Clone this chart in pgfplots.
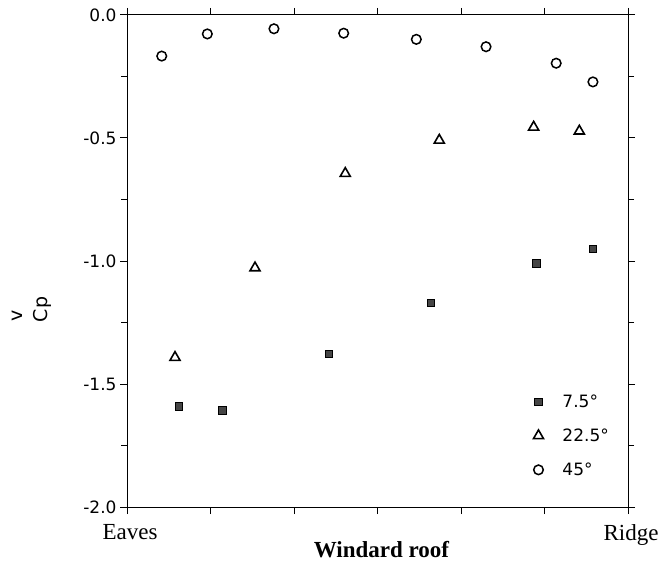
\documentclass[border=0pt]{standalone}
\usepackage{fontspec}
\setmainfont{DejaVu Sans}
\newfontfamily\labelfont{Liberation Serif}
\usepackage{pgfplots}
\pgfplotsset{compat=1.18}

\definecolor{sqgray}{HTML}{454545}

\begin{document}
\begin{tikzpicture}
\begin{axis}[
    name=ax,
    width=501bp, height=492bp, scale only axis,
    xmin=0, xmax=6, ymin=-2, ymax=0,
    axis line style={line width=1bp},
    tick style={line width=1bp, black},
    tick align=outside,
    major tick length=7bp, minor tick length=6bp,
    xtick={0,1,2,3,4,5,6},
    xticklabels={Eaves,,,,,,Ridge},
    xticklabel style={font=\labelfont\fontsize{23bp}{26bp}\selectfont, xshift=3bp, yshift=-7bp},
    ytick={-2,-1.5,-1,-0.5,0},
    yticklabels={-2.0,-1.5,-1.0,-0.5,0.0},
    minor y tick num=1,
    yticklabel style={font=\fontsize{17bp}{20bp}\selectfont},
    xlabel={\bfseries Windard roof},
    xlabel style={at={(rel axis cs:0.508,0)}, anchor=base, yshift=-50bp,
                  font=\labelfont\fontsize{23bp}{26bp}\selectfont},
    ylabel={\shortstack[l]{\hspace{1bp}v\\[7bp]C\kern0.5bp p}},
    ylabel style={at={(rel axis cs:-0.19,0.401)}, anchor=center,
                  font=\fontsize{19bp}{21bp}\selectfont},
    clip=false,
    legend cell align=left,
    legend image code/.code={
        \path[draw=none, fill=none] (-6bp,-2bp) rectangle (22bp,2bp);
        \draw[mark repeat=2,mark phase=2] plot coordinates {(-1bp,0bp)(0bp,0bp)(1bp,0bp)};},
    legend style={draw=none, fill=none, at={(rel axis cs:0.803,0.237)}, anchor=north west,
                  font=\fontsize{17bp}{20bp}\selectfont,
                  /tikz/every even column/.style={column sep=4bp},
                  row sep=16bp},
]
% 7.5 deg
\addplot[only marks, mark=square*, mark size=3.7bp, mark options={fill=sqgray, draw=black, line width=0.6bp}]
coordinates {(0.623,-1.591) (1.141,-1.607) (2.419,-1.377) (3.640,-1.171) (4.900,-1.009) (5.580,-0.951)};
% 22.5 deg
\addplot[only marks, mark=triangle, mark size=5.8bp, mark options={draw=black, line width=1.6bp}]
coordinates {(0.575,-1.392) (1.533,-1.028) (2.614,-0.644) (3.740,-0.509) (4.870,-0.456) (5.417,-0.472)};
% 45 deg
\addplot[only marks, mark=o, mark size=4.8bp, mark options={draw=black, line width=1.5bp}]
coordinates {(0.416,-0.167) (0.962,-0.077) (1.760,-0.056) (2.595,-0.074) (3.465,-0.099) (4.300,-0.129) (5.140,-0.196) (5.580,-0.272)};
\legend{7.5°,22.5°,45°}
\end{axis}
\path (ax.south west) ++(-127bp,-59bp) rectangle ([shift={(36bp,15bp)}]ax.north east);
\end{tikzpicture}
\end{document}
